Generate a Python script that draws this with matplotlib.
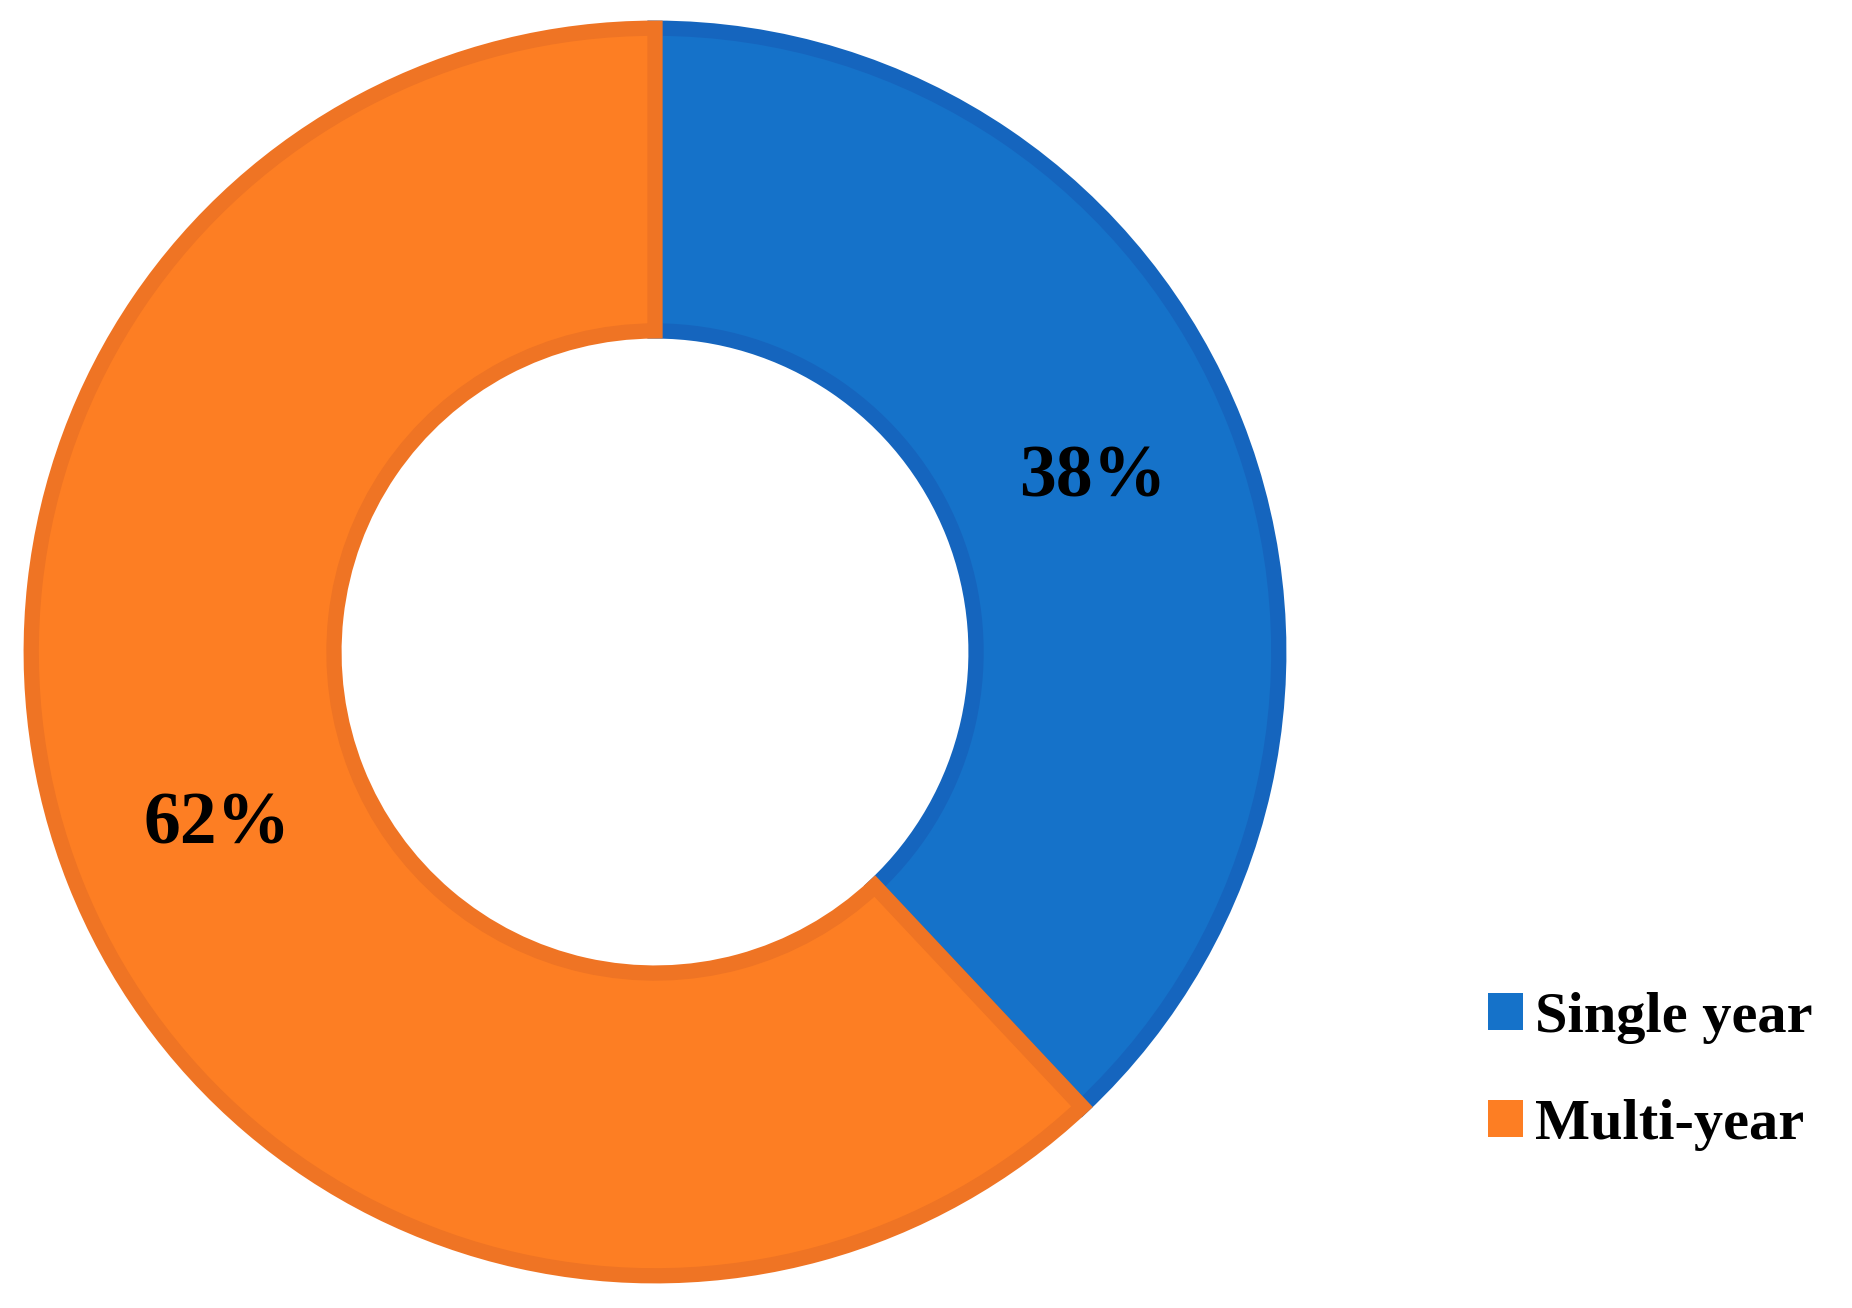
import matplotlib.pyplot as plt

labels = ["Single year", "Multi-year"]
shares = [38, 62]
fill_colors = ["#1572C9", "#FD7E23"]
edge_colors = ["#1565BE", "#EF7424"]

fig = plt.figure(figsize=(18.52, 13.08), dpi=100)
# donut centred at about (655, 652) px, outer radius ~632 px
R = 632
ax = fig.add_axes([(655 - R) / 1852, (1308 - 652 - R) / 1308, 2 * R / 1852, 2 * R / 1308])

wedges, _, autotexts = ax.pie(
    shares, startangle=90, counterclock=False, colors=fill_colors,
    radius=0.987, autopct="%d%%", pctdistance=0.755,
    wedgeprops=dict(width=0.479, linewidth=11),
    textprops=dict(fontfamily="Liberation Serif", fontweight="bold", fontsize=53, color="black"))
for w, ec in zip(wedges, edge_colors):
    w.set_edgecolor(ec)
ax.set_xlim(-1, 1)
ax.set_ylim(-1, 1)
ax.set_aspect("equal")

fig.legend(wedges, labels, loc="upper left", bbox_to_anchor=(1488 / 1852, 1 - 992 / 1308),
           frameon=False, handlelength=0.6, handleheight=0.6, handletextpad=0.2,
           labelspacing=0.95, borderpad=0, borderaxespad=0,
           prop=dict(family="Liberation Serif", weight="bold", size=42))
for h in fig.legends[0].legend_handles:
    h.set_linewidth(0)

fig.savefig("out.png", dpi=100)
